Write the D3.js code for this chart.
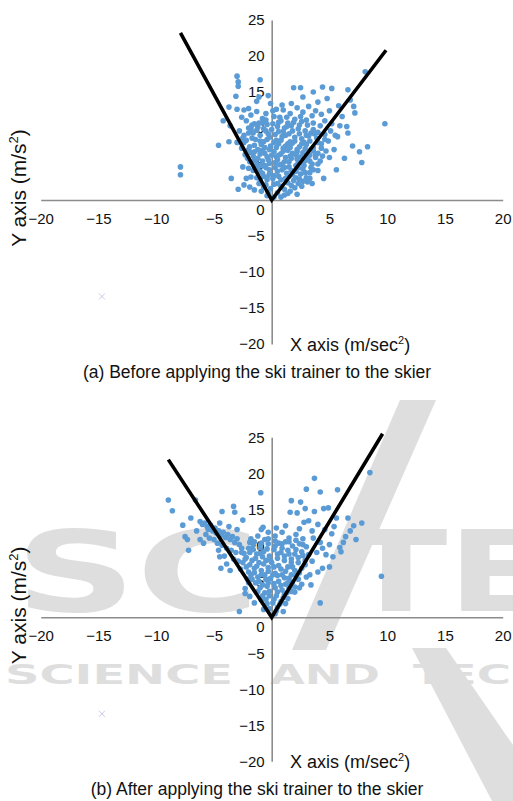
<!DOCTYPE html>
<html>
<head>
<meta charset="utf-8">
<script src="https://cdn.jsdelivr.net/npm/d3@7"></script>
<style>
  body { margin: 0; background: #fff; }
  svg { display: block; font-family: "Liberation Sans", Arial, sans-serif; }
</style>
</head>
<body>
<svg id="chart" width="513" height="801"></svg>
<script>
// tick labels
const xTicks = [-20, -15, -10, -5, 5, 10, 15, 20];
const yTicks = [-20, -15, -10, -5, 0, 5, 10, 15, 20, 25];

// (a) before: acceleration samples [x, y]
const before = [
  [-7.9,4.6],[-7.9,3.5],
  [-3.0,17.2],[-2.9,16.4],[-2.9,15.8],[-1.0,16.7],[-3.1,14.4],[-1.1,14.3],[-1.3,13.7],[-3.7,12.9],
  [-3.0,12.6],[-2.4,12.5],[-4.2,11.0],[-3.6,10.3],[-0.1,13.4],[-4.6,7.6],[-3.7,8.1],[-3.0,8.0],
  [-2.5,4.6],[-2.0,4.4],[-3.5,3.0],[-2.9,1.5],[-1.9,1.8],[-1.8,3.2],
  [1.9,15.6],[2.5,15.6],[4.4,15.7],[5.2,15.5],[6.6,15.3],[8.1,17.8],[9.8,10.6],[8.3,7.4],[7.6,6.7],
  [7.8,5.2],[7.0,7.5],[5.6,4.2],[6.3,5.8],[2.7,14.3],[3.6,15.0],[1.7,13.4],[1.6,12.0],[6.8,13.9],
  [7.1,13.0],[7.2,12.1],[5.8,13.1],[6.1,11.6],[6.5,10.2],[6.6,9.3],[5.7,8.8],[0.9,13.2],[-0.3,14.5],
  [0.4,12.6],[3.2,13.0],[4.0,13.6],[4.8,14.1],[2.2,12.8],[5.0,12.4],[4.3,11.9],[3.5,11.7],
  [-2.6,11.5],[-2.2,11.0],[-1.8,11.8],[-1.5,10.6],[-2.0,10.0],[-1.2,10.1],[-0.8,11.3],[-0.4,10.5],
  [-2.8,9.6],[-2.4,9.0],[-1.6,9.3],[-1.0,9.0],[-0.5,9.6],[-2.2,8.3],[-1.4,8.4],[-0.7,8.1],[-0.2,8.7],
  [-2.6,7.2],[-1.9,7.4],[-1.2,7.0],[-0.6,7.3],[-0.1,7.5],[-2.3,6.3],[-1.6,6.1],[-1.0,6.4],[-0.4,6.0],
  [-1.9,5.3],[-1.3,5.0],[-0.8,5.4],[-0.2,5.1],[-1.6,4.1],[-1.0,4.0],[-0.5,4.5],[-1.3,3.1],[-0.7,3.3],
  [-0.2,3.6],[-1.1,2.3],[-0.5,2.1],[-0.9,1.2],[-0.3,1.0],[-1.5,1.4],[-2.4,2.1],[-2.2,3.0],
  [0.2,11.6],[0.8,11.0],[1.3,11.5],[2.0,11.2],[2.6,10.9],[3.1,10.4],[0.5,10.2],[1.1,10.0],[1.7,10.3],
  [2.3,9.9],[2.9,9.6],[3.6,9.8],[4.2,10.3],[0.3,9.1],[0.9,8.8],[1.5,9.2],[2.0,8.7],[2.6,8.5],[3.2,8.9],
  [3.9,8.6],[4.6,9.1],[5.1,9.6],[0.6,7.8],[1.2,7.5],[1.8,7.9],[2.4,7.4],[3.0,7.7],[3.6,7.3],[4.3,7.8],
  [4.9,8.2],[0.2,6.7],[0.8,6.4],[1.4,6.9],[2.1,6.3],[2.7,6.6],[3.3,6.2],[4.0,6.5],[4.7,6.8],[0.5,5.6],
  [1.1,5.3],[1.7,5.8],[2.3,5.2],[2.9,5.5],[3.5,5.0],[4.2,5.4],[0.3,4.5],[0.9,4.2],[1.5,4.6],[2.1,4.0],
  [2.7,4.3],[3.3,3.8],[4.0,4.1],[0.6,3.3],[1.2,3.0],[1.8,3.5],[2.4,2.9],[3.0,3.1],[0.2,2.2],[0.8,1.9],
  [1.4,2.4],[2.0,1.7],[2.6,1.9],[0.5,1.0],[1.1,0.7],[1.6,1.2],[0.2,0.4],[2.2,0.8],[3.5,2.3],[4.5,3.0],
  [5.0,5.9],[5.4,7.0],[5.2,10.6],[4.6,11.0],[3.8,12.4],[2.7,12.2],[1.0,12.5],[0.1,12.4],[-0.5,12.0],
  [-1.3,12.3],[-2.0,12.7],[5.9,10.3],[5.5,9.0],
  [0.4,8.3],[1.0,7.2],[1.6,6.1],[2.2,5.7],[2.8,4.8],[3.4,4.5],[0.7,4.9],[1.3,3.7],[1.9,2.7],[2.5,3.6],
  [3.1,2.5],[0.1,3.0],[0.4,6.0],[1.0,9.5],[1.6,8.1],[2.2,7.0],[2.8,8.0],[3.4,7.0],[3.8,5.9],[4.4,6.1],
  [0.6,10.8],[1.4,10.7],[2.4,10.4],[3.4,9.3],[4.0,9.4],[4.6,8.4],[-0.3,9.2],[-0.9,7.7],[-1.5,6.7],
  [-2.1,5.8],[-0.6,4.8],[-1.2,4.5],[-0.4,2.8],[-0.8,10.7],[-1.8,9.8],[-2.5,8.6],
  [-1.7,10.4],[-1.1,10.7],[-0.5,11.1],[0.1,10.6],[0.7,11.5],[1.3,10.2],[1.9,10.8],[2.5,11.6],[3.0,11.1],
  [3.6,10.7],[-2.0,9.3],[-1.3,9.7],[-0.7,9.9],[0.0,9.8],[0.6,9.5],[1.2,9.0],[1.8,9.6],[2.4,9.2],[3.0,9.0],
  [3.7,9.2],[-2.4,8.0],[-1.7,8.6],[-1.0,8.2],[-0.4,8.4],[0.2,8.0],[0.8,8.3],[1.4,7.8],[2.0,8.2],[2.6,7.8],
  [3.3,8.2],[4.0,8.0],[-2.0,7.0],[-1.5,7.6],[-0.8,6.9],[-0.2,7.0],[0.4,7.3],[1.0,6.8],[1.6,7.3],[2.2,6.7],
  [2.9,7.1],[3.6,6.8],[4.3,7.2],[-1.8,6.6],[-1.2,5.8],[-0.6,6.5],[0.0,6.2],[0.6,6.2],[1.2,5.9],[1.8,6.5],
  [2.5,6.0],[3.1,5.8],[3.8,6.2],[-1.5,5.5],[-0.9,4.8],[-0.3,5.6],[0.3,5.2],[0.9,5.0],[1.5,5.3],[2.1,4.8],
  [2.7,5.0],[3.3,5.4],[4.0,5.0],[-1.4,4.3],[-0.8,3.7],[-0.2,4.2],[0.5,4.0],[1.1,4.5],[1.7,4.1],[2.3,4.5],
  [2.9,3.8],[3.6,4.2],[-1.0,2.8],[-0.4,3.2],[0.2,3.4],[0.8,2.8],[1.5,3.3],[2.1,3.1],[2.7,2.6],[3.3,3.0],
  [-0.7,1.8],[-0.1,1.6],[0.5,2.3],[1.1,1.5],[1.7,2.0],[2.3,2.3],[-0.4,0.6],[0.8,0.4],[1.4,0.9]
];

// (b) after: acceleration samples [x, y]
const after = [
  [-8.95,16.3],[-8.6,14.8],[-7.7,12.8],[-7.0,13.8],[-6.6,16.3],[-7.5,11.2],[-7.3,10.8],[-6.2,10.8],
  [-7.2,9.3],[-4.3,14.7],[-3.3,15.4],[-3.2,14.6],[-2.5,13.5],[-0.95,17.3],[-0.75,12.5],[-2.8,0.8],
  [-2.3,4.0],[-2.3,3.3],[-1.9,2.9],[-4.5,8.4],[-4.4,6.8],[-4.6,9.3],[-3.9,7.4],[-3.6,6.5],
  [-6.2,13.3],[-6.0,12.9],[-5.8,13.1],[-5.6,12.6],[-5.5,12.2],[-5.3,12.8],[-5.1,12.0],[-4.9,12.4],
  [-4.8,11.7],[-4.6,12.0],[-4.4,11.4],[-4.2,11.8],[-4.0,11.1],[-3.8,11.5],[-3.6,10.8],[-3.4,11.2],
  [-3.2,10.4],[-3.0,10.9],[-2.8,10.1],[-2.6,9.6],[-2.4,8.9],[-2.2,8.3],[-2.5,7.6],[-2.2,7.0],
  [-5.0,10.8],[-4.7,10.3],[-4.3,10.0],[-3.9,9.6],[-3.5,9.3],[-3.1,9.0],[-5.4,11.0],[-5.7,11.5],
  [-4.1,8.5],[-3.3,8.1],[-2.9,7.8],[-2.7,6.7],[-3.0,12.2],[-3.7,12.6],[-4.5,13.1],[-6.5,12.0],[-5.9,10.3],
  [-1.8,10.9],[-1.2,11.3],[-0.6,10.8],[-1.6,10.0],[-1.0,9.7],[-0.3,10.2],[-1.9,9.0],[-1.3,8.8],
  [-0.7,9.1],[-0.2,8.5],[-1.7,7.9],[-1.1,7.6],[-0.5,7.9],[-1.5,6.8],[-0.9,6.5],[-0.3,6.9],[-1.8,5.9],
  [-1.2,5.6],[-0.6,5.9],[-0.1,5.4],[-1.4,4.8],[-0.8,4.5],[-0.3,4.8],[-1.2,3.6],[-0.6,3.4],[-0.2,3.0],
  [-0.9,2.4],[-0.4,1.9],[-0.7,1.1],[-1.5,2.0],[-2.0,6.3],[-2.0,4.8],[-0.9,12.2],[-0.3,11.8],
  [0.3,11.3],[0.9,11.8],[1.5,11.0],[2.1,11.5],[2.7,10.9],[0.6,10.3],[1.2,10.5],[1.8,9.9],[2.4,10.2],
  [3.0,9.8],[0.2,9.4],[0.8,9.0],[1.4,9.3],[2.0,8.8],[2.6,9.1],[3.2,8.7],[0.5,8.2],[1.1,7.9],[1.7,8.1],
  [2.3,7.6],[2.9,7.9],[0.2,7.0],[0.8,6.7],[1.4,7.0],[2.0,6.5],[2.6,6.8],[0.5,5.8],[1.1,5.5],[1.7,5.9],
  [2.3,5.3],[0.2,4.7],[0.8,4.4],[1.4,4.8],[2.0,4.2],[0.5,3.5],[1.1,3.2],[1.7,3.6],[0.2,2.5],[0.8,2.2],
  [1.4,2.6],[0.5,1.4],[1.0,0.8],[0.3,0.5],[2.6,4.6],[3.0,5.6],[0.4,12.4],[1.2,12.7],[2.4,12.3],
  [3.7,19.3],[8.5,20.1],[3.0,17.8],[4.2,17.4],[5.7,17.7],[1.7,16.2],[1.6,14.6],[2.2,14.5],[2.9,15.1],
  [3.7,14.7],[4.5,15.1],[4.9,15.2],[5.6,13.8],[6.6,13.8],[7.1,12.7],[7.8,13.1],[7.3,10.8],[6.4,11.2],
  [5.9,9.7],[6.0,9.1],[4.7,8.7],[5.0,7.0],[4.4,6.8],[4.0,6.3],[3.3,5.9],[3.4,4.5],[4.2,2.0],[9.5,5.7],
  [3.2,13.4],[4.0,12.9],[4.6,12.2],[5.2,11.6],[3.6,11.0],[4.2,10.4],[5.0,10.1],[3.5,12.0],[2.8,13.2],
  [3.9,9.0],[4.4,9.6],[3.5,7.8],[5.4,12.6],[6.8,12.0],[6.2,10.4],[5.3,8.4],[2.5,16.0],
  [-1.5,10.5],[-0.9,10.3],[-0.3,10.9],[0.3,10.6],[0.9,10.2],[1.5,10.5],[2.1,10.7],[2.7,10.1],
  [-1.6,9.4],[-1.0,8.9],[-0.4,9.5],[0.3,9.9],[0.9,9.6],[1.5,8.8],[2.1,9.4],[2.7,8.6],
  [-1.4,8.2],[-0.8,8.4],[-0.1,7.9],[0.5,8.8],[1.1,8.5],[1.7,7.6],[2.3,8.3],[2.9,7.3],
  [-1.9,7.3],[-1.3,7.1],[-0.7,7.4],[0.0,7.6],[0.6,7.2],[1.2,6.4],[1.8,7.0],[2.4,6.2],
  [-1.5,6.2],[-0.9,5.9],[-0.3,6.4],[0.3,6.1],[0.9,5.9],[1.5,5.4],[2.1,5.8],
  [-1.7,5.3],[-1.1,5.0],[-0.5,5.3],[0.1,5.9],[0.6,5.0],[1.2,4.6],[1.8,4.9],[2.4,4.1],
  [-1.0,4.1],[-0.4,4.3],[0.3,4.1],[0.9,3.8],[1.5,4.1],[2.0,3.5],
  [-0.8,3.0],[-0.2,3.6],[0.4,3.0],[1.0,2.7],[1.3,3.4],
  [-0.5,2.5],[0.1,2.0],[0.7,1.8],[1.2,1.9],[-0.2,1.2],[0.4,0.9],
  [-2.3,8.1],[-2.0,9.6],[-1.9,10.4],[-2.6,9.0],[-2.1,5.3]
];

// V boundary lines through the origin
const beforeLines = [[-7.9, 23.2], [0, 0], [9.9, 20.8]];
const afterLines = [[-8.95, 21.9], [0, 0], [9.6, 25.5]];

// stray second-series marker
const beforeMark = [[-14.7, -13.4]];
const afterMark = [[-14.7, -13.4]];

const captions = [
  "(a) Before applying the ski trainer to the skier",
  "(b) After applying the ski trainer to the skier"
];

const svg = d3.select("#chart");
const font = '"Liberation Sans", Arial, sans-serif';

// faint publisher watermark behind panel (b)
const wm = svg.append("g").attr("fill", "#dedede")
  .style("font-family", '"DejaVu Sans", sans-serif').style("font-weight", "bold");
wm.append("text").attr("x", 15).attr("y", 611).attr("font-size", 112)
  .attr("textLength", 245).attr("lengthAdjust", "spacingAndGlyphs").text("SC");
wm.append("text").attr("x", 345).attr("y", 611).attr("font-size", 112)
  .attr("textLength", 205).attr("lengthAdjust", "spacingAndGlyphs").text("TE");
wm.append("polygon").attr("points", "292,650 326,650 436,400 400,400");
wm.append("polygon").attr("points", "412,648 446,648 513,745 513,801 492,801");
wm.append("text").attr("x", 5).attr("y", 684).attr("font-size", 26)
  .attr("textLength", 228).attr("lengthAdjust", "spacingAndGlyphs").text("SCIENCE");
wm.append("text").attr("x", 270).attr("y", 684).attr("font-size", 26)
  .attr("textLength", 110).attr("lengthAdjust", "spacingAndGlyphs").text("AND");
wm.append("text").attr("x", 413).attr("y", 684).attr("font-size", 26)
  .attr("textLength", 98).attr("lengthAdjust", "spacingAndGlyphs").text("TEC");

const x = d3.scaleLinear().domain([-20, 20]).range([40.7, 502.7]);

function drawPanel(pts, lines, mark, caption, top) {
  const y = d3.scaleLinear().domain([-20, 25]).range([top + 324, top]);
  const g = svg.append("g");

  // x axis through y = 0
  const gx = g.append("g")
    .attr("transform", `translate(0,${y(0)})`)
    .call(d3.axisBottom(x).tickValues(xTicks).tickSize(0).tickSizeOuter(0).tickPadding(13));
  // y axis through x = 0
  const gy = g.append("g")
    .attr("transform", `translate(${x(0)},0)`)
    .call(d3.axisLeft(y).tickValues(yTicks).tickSize(0).tickSizeOuter(0).tickPadding(7));

  [gx, gy].forEach(a => {
    a.select(".domain").attr("stroke", "#8c8c8c").attr("stroke-width", 1.6);
    a.selectAll("text").attr("fill", "#111").style("font-size", "15px").style("font-family", font);
  });
  gy.selectAll(".tick").filter(d => d === 0).select("text").attr("dy", "0.95em");

  // points
  g.append("g").selectAll("circle").data(pts).join("circle")
    .attr("cx", d => x(d[0])).attr("cy", d => y(d[1])).attr("r", 2.8)
    .attr("fill", "#5b9bd5");

  // V lines
  g.append("path").datum(lines)
    .attr("d", d3.line().x(d => x(d[0])).y(d => y(d[1])))
    .attr("fill", "none").attr("stroke", "#000").attr("stroke-width", 3.6)
    .attr("stroke-linejoin", "miter");

  // x marker
  g.append("g").selectAll("path").data(mark).join("path")
    .attr("d", d3.symbol(d3.symbolTimes, 26))
    .attr("transform", d => `translate(${x(d[0])},${y(d[1])})`)
    .attr("fill", "none").attr("stroke", "#c2c2e6").attr("stroke-width", 0.9);

  // axis titles
  const xt = g.append("text").attr("x", 290).attr("y", y(-20) + 7)
    .attr("fill", "#111").style("font-size", "18px").style("font-family", font);
  xt.append("tspan").text("X axis (m/sec");
  xt.append("tspan").attr("dy", -7).style("font-size", "11px").text("2");
  xt.append("tspan").attr("dy", 7).text(")");

  const yt = g.append("text")
    .attr("transform", `translate(26,${top + 168}) rotate(-90)`)
    .attr("text-anchor", "middle")
    .attr("fill", "#111").style("font-size", "21px").style("font-family", font);
  yt.append("tspan").text("Y axis (m/s");
  yt.append("tspan").attr("dy", -8).style("font-size", "13px").text("2");
  yt.append("tspan").attr("dy", 8).text(")");

  // caption
  g.append("text").attr("x", 257).attr("y", y(-20) + 34)
    .attr("text-anchor", "middle").attr("fill", "#111")
    .style("font-size", "17.5px").style("font-family", font).text(caption);
}

drawPanel(before, beforeLines, beforeMark, captions[0], 20);
drawPanel(after, afterLines, afterMark, captions[1], 437.3);
</script>
</body>
</html>
